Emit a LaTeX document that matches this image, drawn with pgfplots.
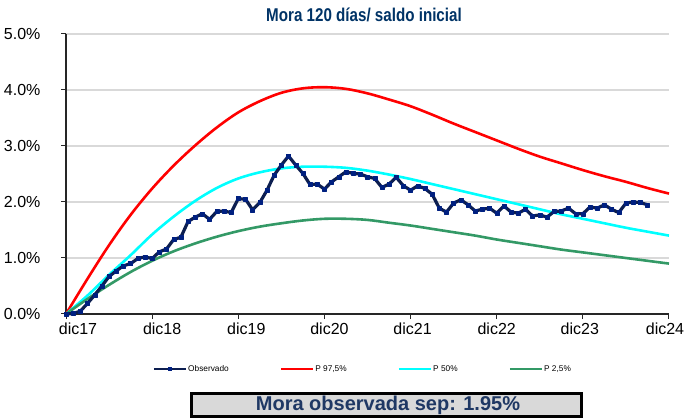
\documentclass[border=0pt]{standalone}
\usepackage{pgfplots}
\pgfplotsset{compat=1.18}
\usepackage{fontspec}
\setmainfont{Liberation Sans}
\definecolor{obsline}{RGB}{12,30,80}
\definecolor{obsmark}{RGB}{0,32,128}
\definecolor{pgreen}{RGB}{51,153,102}
\definecolor{pcyan}{RGB}{0,255,255}
\definecolor{pred}{RGB}{255,0,0}
\definecolor{titleblue}{RGB}{0,51,102}
\definecolor{boxtext}{RGB}{31,56,100}
\definecolor{gridgray}{RGB}{217,217,217}
\definecolor{boxgray}{RGB}{217,217,217}
\begin{document}
\begin{tikzpicture}[x=1pt,y=1pt]
\path[use as bounding box] (0,0) rectangle (686,418);
\node at (364,403) {\scalebox{0.82}[1]{\fontsize{18.5}{20}\selectfont\bfseries\color{titleblue}Mora 120 días/ saldo inicial}};
\begin{axis}[
  at={(66pt,104pt)}, anchor=south west, scale only axis,
  width=603pt, height=280pt,
  xmin=0, xmax=84, ymin=0, ymax=5,
  axis x line*=bottom, axis y line*=left,
  axis line style={line width=1.2pt, color=black!85},
  xtick={0,12,...,84},
  xticklabels={\hspace*{24pt}dic17,\hspace*{20pt}dic18,\hspace*{16pt}dic19,\hspace*{10pt}dic20,\hspace*{4pt}dic21,dic22,\hspace*{-6pt}dic23,\hspace*{-8pt}dic24},
  ytick={0,1,2,3,4,5},
  yticklabel={\pgfmathprintnumber[fixed,fixed zerofill,precision=1]{\tick}\%},
  /pgf/number format/assume math mode=true,
  ymajorgrids, grid style={line width=1.5pt, color=gridgray},
  tick align=outside, major tick length=5pt,
  tick style={line width=1pt, color=black!85},
  tick label style={font=\fontsize{16}{16}\selectfont},
  yticklabel style={xshift=-17pt},
  clip=false,
  legend columns=4,
  legend style={at={(0.1443,-0.196)}, anchor=west, draw=none, fill=none,
    font=\fontsize{8.3}{9}\selectfont, inner sep=0pt,
    /tikz/every even column/.append style={column sep=50pt},
    nodes={inner sep=1.5pt}},
  legend image code/.code={\draw[mark repeat=2,mark phase=2,#1,line width=1.5pt] plot coordinates {(0pt,0pt) (16pt,0pt) (32pt,0pt)};},
]
\addlegendimage{color=obsline, mark=square*, mark size=1.6pt, mark options={fill=obsmark,draw=obsmark,line width=0.3pt}}
\addlegendentry{Observado}
\addlegendimage{color=pred}
\addlegendentry{P 97,5\%}
\addlegendimage{color=pcyan}
\addlegendentry{P 50\%}
\addlegendimage{color=pgreen}
\addlegendentry{P 2,5\%}

\addplot[forget plot, color=pred, line width=2.6pt, smooth, tension=0.55] coordinates {
(0,0) (3,0.63) (6,1.23) (9,1.77) (12,2.24) (15,2.65) (18,3.01) (21,3.33) (24,3.60)
(27,3.80) (30,3.95) (33,4.03) (36,4.05) (39,4.02) (42,3.94) (45,3.83) (48,3.71)
(51,3.56) (54,3.40) (57,3.25) (60,3.10) (63,2.95) (66,2.81) (69,2.69) (72,2.57)
(75,2.46) (78,2.36) (81,2.25) (84,2.15)};
\addplot[forget plot, color=pcyan, line width=2.6pt, smooth, tension=0.55] coordinates {
(0,0) (3,0.33) (6,0.70) (9,1.05) (12,1.42) (15,1.74) (18,2.02) (21,2.25) (24,2.42)
(27,2.53) (30,2.60) (33,2.63) (36,2.63) (39,2.61) (42,2.56) (45,2.49) (48,2.41)
(51,2.32) (54,2.23) (57,2.14) (60,2.05) (63,1.96) (66,1.87) (69,1.78) (72,1.70)
(75,1.62) (78,1.54) (81,1.47) (84,1.40)};
\addplot[forget plot, color=pgreen, line width=2.6pt, smooth, tension=0.55] coordinates {
(0,0) (3,0.27) (6,0.52) (9,0.75) (12,0.95) (15,1.12) (18,1.26) (21,1.38) (24,1.48)
(27,1.56) (30,1.62) (33,1.67) (36,1.70) (39,1.70) (42,1.68) (45,1.63) (48,1.58)
(51,1.52) (54,1.46) (57,1.40) (60,1.33) (63,1.27) (66,1.21) (69,1.15) (72,1.10)
(75,1.05) (78,1.00) (81,0.95) (84,0.90)};
\addplot[forget plot, color=obsline, line width=3.2pt, line join=round, mark=square*, mark size=2pt,
  mark options={fill=obsmark, draw=obsmark, line width=0.3pt}] coordinates {
(0,0.00) (1,0.01) (2,0.05) (3,0.19) (4,0.34) (5,0.50) (6,0.67) (7,0.77) (8,0.86) (9,0.90)
(10,0.99) (11,1.02) (12,0.99) (13,1.11) (14,1.16) (15,1.33) (16,1.37) (17,1.65) (18,1.73) (19,1.79)
(20,1.69) (21,1.83) (22,1.84) (23,1.81) (24,2.06) (25,2.05) (26,1.86) (27,1.99) (28,2.21) (29,2.48)
(30,2.66) (31,2.82) (32,2.66) (33,2.51) (34,2.31) (35,2.32) (36,2.23) (37,2.36) (38,2.45) (39,2.54)
(40,2.51) (41,2.50) (42,2.45) (43,2.42) (44,2.26) (45,2.32) (46,2.44) (47,2.29) (48,2.21) (49,2.29)
(50,2.24) (51,2.14) (52,1.89) (53,1.82) (54,1.98) (55,2.04) (56,1.95) (57,1.84) (58,1.87) (59,1.89)
(60,1.80) (61,1.93) (62,1.82) (63,1.80) (64,1.87) (65,1.75) (66,1.77) (67,1.73) (68,1.83) (69,1.84)
(70,1.89) (71,1.79) (72,1.79) (73,1.91) (74,1.89) (75,1.95) (76,1.87) (77,1.81) (78,1.98) (79,2.00)
(80,1.99) (81,1.95)};
\end{axis}
\draw[line width=3pt, fill=boxgray] (191.5,1.5) rectangle (581.5,24.5);
\node at (388,13) {\fontsize{20}{22}\selectfont\bfseries\color{boxtext}Mora observada sep: 1.95\%};
\end{tikzpicture}
\end{document}
